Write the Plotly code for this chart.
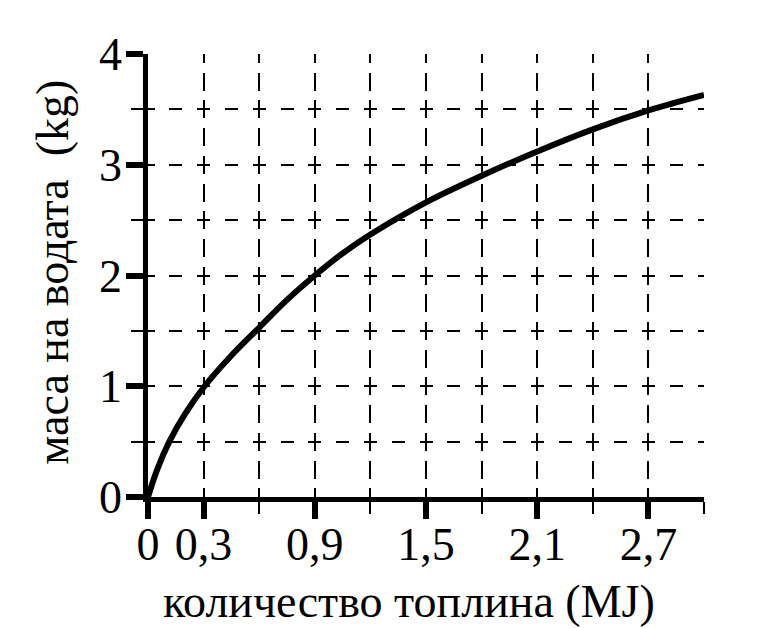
import plotly.graph_objects as go

# Data
heat_mj = [0, 0.05, 0.115, 0.2, 0.305, 0.44, 0.6, 0.75, 0.9, 1.05, 1.2, 1.5, 1.8, 2.1, 2.4, 2.7, 3.0]
mass_kg = [0, 0.25, 0.5, 0.75, 1.0, 1.26, 1.53, 1.78, 2.0, 2.2, 2.37, 2.66, 2.9, 3.12, 3.32, 3.49, 3.63]

x_major = [0, 0.3, 0.9, 1.5, 2.1, 2.7]
x_major_text = ["0", "0,3", "0,9", "1,5", "2,1", "2,7"]
x_minor = [0.6, 1.2, 1.8, 2.4, 3.0]
y_major = [0, 1, 2, 3, 4]
y_major_text = ["0", "1", "2", "3", "4"]
y_minor = [0.5, 1.5, 2.5, 3.5]

x_title = "количество топлина (MJ)"
y_title = "маса на водата  (kg)"

FONT = "Liberation Serif"
FS_TICK = 46

fig = go.Figure()
fig.add_trace(go.Scatter(
    x=heat_mj, y=mass_kg, mode="lines",
    line=dict(color="black", width=6, shape="spline", smoothing=1.0),
    hoverinfo="skip", showlegend=False,
))

hdash = "6.5px,14.8px,6.5px,0px"   # horizontal grid lines
vdash = "9px,9.7px,9px,0px"        # vertical grid lines

fig.update_xaxes(
    range=[0, 3.0], tickmode="array", tickvals=x_major, ticktext=x_major_text,
    ticks="outside", ticklen=17, tickwidth=6, tickcolor="black",
    showline=True, linecolor="black", linewidth=4.5,
    showgrid=True, gridcolor="black", gridwidth=1.8, griddash=vdash,
    zeroline=False, ticklabelstandoff=-14,
    tickfont=dict(family=FONT, size=FS_TICK, color="black"),
    minor=dict(tickmode="array", tickvals=x_minor, ticks="outside", ticklen=12,
               tickwidth=1.8, tickcolor="black",
               showgrid=True, gridcolor="black", gridwidth=1.8, griddash=vdash),
)
fig.update_yaxes(
    range=[0, 4], tickmode="array", tickvals=y_major, ticktext=y_major_text,
    ticks="outside", ticklen=17, tickwidth=6, tickcolor="black",
    showline=True, linecolor="black", linewidth=4.5,
    showgrid=True, gridcolor="black", gridwidth=1.8, griddash=hdash,
    zeroline=False, ticklabelstandoff=-5,
    tickfont=dict(family=FONT, size=FS_TICK, color="black"),
    minor=dict(tickmode="array", tickvals=y_minor, ticks="outside", ticklen=12,
               tickwidth=1.8, tickcolor="black",
               showgrid=True, gridcolor="black", gridwidth=1.8, griddash=hdash),
)

fig.add_annotation(text=x_title, xref="paper", yref="paper", x=0.469, y=-0.236,
                   xanchor="center", yanchor="middle", showarrow=False,
                   font=dict(family=FONT, size=46, color="black"))
fig.add_annotation(text=y_title, xref="paper", yref="paper", x=-0.172, y=0.507,
                   xanchor="center", yanchor="middle", showarrow=False, textangle=-90,
                   font=dict(family=FONT, size=46, color="black"))

fig.update_layout(
    width=775, height=628,
    margin=dict(l=140, r=79, t=46, b=139, pad=0),
    paper_bgcolor="white", plot_bgcolor="white",
    font=dict(family=FONT, size=46, color="black"),
)

fig.write_html("out.html")
